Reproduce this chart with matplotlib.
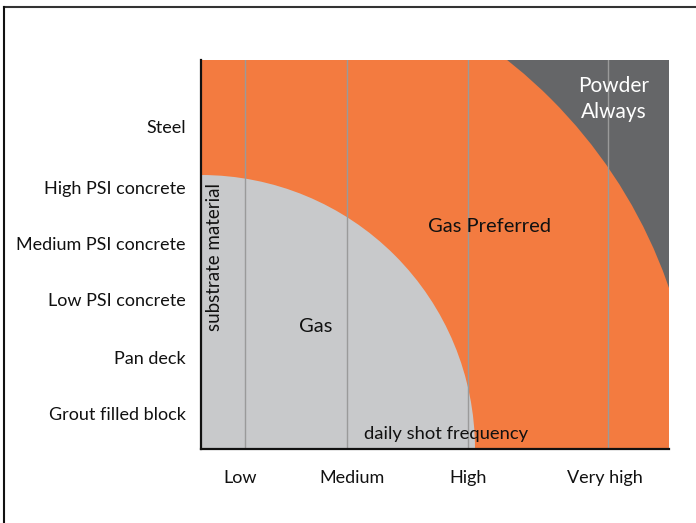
import numpy as np
import matplotlib.pyplot as plt
from matplotlib.patches import Wedge, Rectangle
from matplotlib.lines import Line2D

plt.rcParams['font.family'] = ['Lato', 'DejaVu Sans']

# Chart data (axis units: frequency 0..468, material 0..389)
freq_labels = ['Low', 'Medium', 'High', 'Very high']
freq_label_pos = [39, 151, 267, 404]
grid_pos = [44, 146, 267, 407]
material_labels = ['Steel', 'High PSI concrete', 'Medium PSI concrete',
                   'Low PSI concrete', 'Pan deck', 'Grout filled block']
material_pos = [323, 262, 206, 149, 92, 35]
gas_radius = 274
powder_radius = 495
x_max, y_max = 468, 389

orange = '#F37B40'
light_gray = '#C8C9CB'
dark_gray = '#656668'

fig = plt.figure(figsize=(6.96, 5.23), dpi=100)
ax = fig.add_axes([201 / 696, 74 / 523, 468 / 696, 389 / 523])
ax.set_xlim(0, x_max)
ax.set_ylim(0, y_max)

# Zones
ax.add_patch(Rectangle((0, 0), x_max, y_max, facecolor=dark_gray, edgecolor='none', zorder=0))
ax.add_patch(Wedge((0, 0), powder_radius, 0, 90, facecolor=orange, edgecolor='none', zorder=1))
ax.add_patch(Wedge((0, 0), gas_radius, 0, 90, facecolor=light_gray, edgecolor='none', zorder=2))

# Grid lines at frequency categories
for xp in grid_pos:
    ax.axvline(xp, color='#9a9a9a', lw=1, zorder=3)

ax.set_xticks(freq_label_pos)
ax.set_xticklabels(freq_labels, fontsize=13)
ax.set_yticks(material_pos)
ax.set_yticklabels(material_labels, fontsize=13)
ax.tick_params(length=0, colors='#111111')
ax.tick_params(axis='y', pad=11)
ax.tick_params(axis='x', pad=15)

for s in ['top', 'right']:
    ax.spines[s].set_visible(False)
for s in ['left', 'bottom']:
    ax.spines[s].set_linewidth(1.6)
    ax.spines[s].set_color('#111111')
    ax.spines[s].set_zorder(5)

# Zone labels
ax.text(115, 123, 'Gas', fontsize=14.5, ha='center', va='center', zorder=4, color='#111111')
ax.text(289, 222, 'Gas Preferred', fontsize=14.5, ha='center', va='center', zorder=4, color='#111111')
ax.text(413, 350, 'Powder\nAlways', fontsize=15, ha='center', va='center', zorder=4,
        color='white', linespacing=1.4)
ax.text(14, 192, 'substrate material', fontsize=13.5, rotation=90, ha='center', va='center',
        zorder=4, color='#111111')
ax.text(245, 15, 'daily shot frequency', fontsize=13.2, ha='center', va='center',
        zorder=4, color='#111111')

# Partial frame around the figure
fig.add_artist(Line2D([4 / 696, 1], [1 - 7 / 523, 1 - 7 / 523], color='#333333', lw=1.5))
fig.add_artist(Line2D([4 / 696, 4 / 696], [0, 1 - 7 / 523], color='#111111', lw=1.5))

fig.savefig('out.png', dpi=100)
